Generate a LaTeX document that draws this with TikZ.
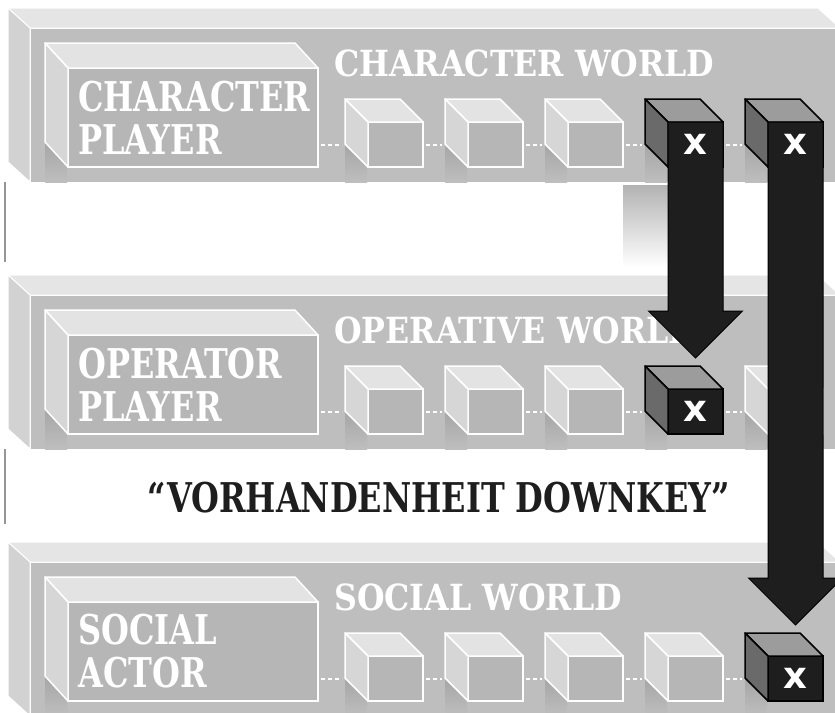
\documentclass[tikz,border=0pt]{standalone}
\usepackage{fontspec}
\usepackage{xcolor}
\usetikzlibrary{positioning,calc}
\newfontfamily\labelfont[FakeStretch=0.78]{DejaVu Serif}
\newfontfamily\titlefont[FakeStretch=0.88]{DejaVu Serif}
\newfontfamily\markfont{DejaVu Sans}
\definecolor{slabfront}{RGB}{190,190,190}
\definecolor{slabtop}{RGB}{229,229,229}
\definecolor{slabside}{RGB}{210,210,210}
\definecolor{boxfront}{RGB}{182,182,182}
\definecolor{boxtop}{RGB}{227,227,227}
\definecolor{boxside}{RGB}{214,214,214}
\definecolor{darkfront}{RGB}{30,30,30}
\definecolor{darksidegray}{RGB}{106,106,106}
\definecolor{darktopgray}{RGB}{156,156,156}
\definecolor{edgegray}{RGB}{150,150,150}

\begin{document}
\begin{tikzpicture}[x=1pt, y=-1pt,
  slab/.style={draw=white, line width=1pt, fill=slabfront, minimum width=820pt, minimum height=154pt, inner sep=0pt, outer sep=0pt},
  slabtopface/.style={draw=white, line width=1pt, fill=slabtop},
  slabsideface/.style={draw=white, line width=1pt, fill=slabside},
  player/.style={draw=white, line width=1.5pt, fill=boxfront, minimum width=250pt, minimum height=99pt, inner sep=0pt, outer sep=0pt},
  cube/.style={draw=white, line width=1.5pt, fill=boxfront, minimum width=55pt, minimum height=45pt, inner sep=0pt, outer sep=0pt},
  darkcube/.style={cube, draw=black, fill=darkfront},
  topface/.style={draw=white, line width=1.5pt, fill=boxtop, line join=round},
  sideface/.style={draw=white, line width=1.5pt, fill=boxside, line join=round},
  darktopface/.style={draw=black, line width=1.5pt, fill=darktopgray, line join=round},
  darksideface/.style={draw=black, line width=1.5pt, fill=darksidegray, line join=round},
  sideshadow/.style={top color=black!35, bottom color=slabfront},
  dotline/.style={draw=white, line width=2pt, dash pattern=on 4pt off 3pt, shorten <=3pt, shorten >=3pt},
  playerlbl/.style={text=white, font=\labelfont\bfseries\fontsize{41}{43}\selectfont, align=left, anchor=west, inner sep=0pt},
  worldlbl/.style={text=white, font=\titlefont\bfseries\fontsize{36}{36}\selectfont, inner sep=0pt},
  quotelbl/.style={text=darkfront, font=\labelfont\bfseries\fontsize{41}{43}\selectfont, inner sep=0pt},
  xmark/.style={text=white, font=\markfont\bfseries\fontsize{37}{37}\selectfont, inner sep=0pt},
  bigarrow/.style={fill=darkfront, draw=black, line width=1pt},
  edgeline/.style={draw=edgegray, line width=2pt}
]
\useasboundingbox (0,0) rectangle (835,712);

% character world
\node[slab] (chw) at (440,105) {};
\path[slabtopface] (chw.north west) -- ++(-22,-20) -- ++(810,0) -- ++(22,20) -- cycle;
\path[slabsideface] (chw.north west) -- ++(-22,-20) -- ++(0,154) -- (chw.south west) -- cycle;
\node[player] (chp) at (193,117.5) {};
\node[cube] (ch1) at (395.5,144.5) {};
\node[cube, right=45pt of ch1] (ch2) {};
\node[cube, right=45pt of ch2] (ch3) {};
\node[darkcube, right=45pt of ch3] (ch4) {};
\node[darkcube, right=45pt of ch4] (ch5) {};
\foreach \c/\d in {chp/25,ch1/23,ch2/23,ch3/23,ch4/23,ch5/23}
  \shade[sideshadow] ($(\c.south west)+(-23,-\d)$) rectangle ([xshift=-1pt]\c.south west |- chw.south);
\foreach \c/\d in {chp/25,ch1/23,ch2/23,ch3/23} {
  \path[topface] (\c.north west) -- ++(-23,-\d) -- ($(\c.north east)+(-23,-\d)$) -- (\c.north east) -- cycle;
  \path[sideface] (\c.north west) -- ++(-23,-\d) -- ($(\c.south west)+(-23,-\d)$) -- (\c.south west) -- cycle;
}
\foreach \c in {ch4,ch5} {
  \path[darktopface] (\c.north west) -- ++(-23,-23) -- ($(\c.north east)+(-23,-23)$) -- (\c.north east) -- cycle;
  \path[darksideface] (\c.north west) -- ++(-23,-23) -- ($(\c.south west)+(-23,-23)$) -- (\c.south west) -- cycle;
}
\draw[dotline] (chp.east |- ch1.west) -- ([xshift=-23pt]ch1.west);
\draw[dotline] (ch1.east) -- ([xshift=-23pt]ch2.west);
\draw[dotline] (ch2.east) -- ([xshift=-23pt]ch3.west);
\draw[dotline] (ch3.east) -- ([xshift=-23pt]ch4.west);
\draw[dotline] (ch4.east) -- ([xshift=-23pt]ch5.west);
\node[playerlbl] (chpt) at ([xshift=10pt]chp.west) {CHARACTER\\PLAYER};
\node[worldlbl, anchor=base west] (chwt) at ([xshift=16pt,yshift=-8pt]chp.north east) {CHARACTER WORLD};

% operative world
\node[slab] (opw) at (440,372) {};
\path[slabtopface] (opw.north west) -- ++(-22,-20) -- ++(810,0) -- ++(22,20) -- cycle;
\path[slabsideface] (opw.north west) -- ++(-22,-20) -- ++(0,154) -- (opw.south west) -- cycle;
\node[player] (opp) at (193,384.5) {};
\node[cube] (op1) at (395.5,411.5) {};
\node[cube, right=45pt of op1] (op2) {};
\node[cube, right=45pt of op2] (op3) {};
\node[darkcube, right=45pt of op3] (op4) {};
\node[cube, right=45pt of op4] (op5) {};
\foreach \c/\d in {opp/25,op1/23,op2/23,op3/23,op4/23,op5/23}
  \shade[sideshadow] ($(\c.south west)+(-23,-\d)$) rectangle ([xshift=-1pt]\c.south west |- opw.south);
\foreach \c/\d in {opp/25,op1/23,op2/23,op3/23,op5/23} {
  \path[topface] (\c.north west) -- ++(-23,-\d) -- ($(\c.north east)+(-23,-\d)$) -- (\c.north east) -- cycle;
  \path[sideface] (\c.north west) -- ++(-23,-\d) -- ($(\c.south west)+(-23,-\d)$) -- (\c.south west) -- cycle;
}
\path[darktopface] (op4.north west) -- ++(-23,-23) -- ($(op4.north east)+(-23,-23)$) -- (op4.north east) -- cycle;
\path[darksideface] (op4.north west) -- ++(-23,-23) -- ($(op4.south west)+(-23,-23)$) -- (op4.south west) -- cycle;
\draw[dotline] (opp.east |- op1.west) -- ([xshift=-23pt]op1.west);
\draw[dotline] (op1.east) -- ([xshift=-23pt]op2.west);
\draw[dotline] (op2.east) -- ([xshift=-23pt]op3.west);
\draw[dotline] (op3.east) -- ([xshift=-23pt]op4.west);
\draw[dotline] (op4.east) -- ([xshift=-23pt]op5.west);
\node[playerlbl] (oppt) at ([xshift=10pt]opp.west) {OPERATOR\\PLAYER};
\node[worldlbl, anchor=base west] (opwt) at ([xshift=16pt,yshift=-8pt]opp.north east) {OPERATIVE WORLD};

% social world
\node[slab] (sow) at (440,639) {};
\path[slabtopface] (sow.north west) -- ++(-22,-20) -- ++(810,0) -- ++(22,20) -- cycle;
\path[slabsideface] (sow.north west) -- ++(-22,-20) -- ++(0,154) -- (sow.south west) -- cycle;
\node[player] (sop) at (193,651.5) {};
\node[cube] (so1) at (395.5,678.5) {};
\node[cube, right=45pt of so1] (so2) {};
\node[cube, right=45pt of so2] (so3) {};
\node[cube, right=45pt of so3] (so4) {};
\node[darkcube, right=45pt of so4] (so5) {};
\foreach \c/\d in {sop/25,so1/23,so2/23,so3/23,so4/23,so5/23}
  \shade[sideshadow] ($(\c.south west)+(-23,-\d)$) rectangle ([xshift=-1pt]\c.south west |- sow.south);
\foreach \c/\d in {sop/25,so1/23,so2/23,so3/23,so4/23} {
  \path[topface] (\c.north west) -- ++(-23,-\d) -- ($(\c.north east)+(-23,-\d)$) -- (\c.north east) -- cycle;
  \path[sideface] (\c.north west) -- ++(-23,-\d) -- ($(\c.south west)+(-23,-\d)$) -- (\c.south west) -- cycle;
}
\path[darktopface] (so5.north west) -- ++(-23,-23) -- ($(so5.north east)+(-23,-23)$) -- (so5.north east) -- cycle;
\path[darksideface] (so5.north west) -- ++(-23,-23) -- ($(so5.south west)+(-23,-23)$) -- (so5.south west) -- cycle;
\draw[dotline] (sop.east |- so1.west) -- ([xshift=-23pt]so1.west);
\draw[dotline] (so1.east) -- ([xshift=-23pt]so2.west);
\draw[dotline] (so2.east) -- ([xshift=-23pt]so3.west);
\draw[dotline] (so3.east) -- ([xshift=-23pt]so4.west);
\draw[dotline] (so4.east) -- ([xshift=-23pt]so5.west);
\node[playerlbl] (sopt) at ([xshift=10pt]sop.west) {SOCIAL\\ACTOR};
\node[worldlbl, anchor=base west] (sowt) at ([xshift=16pt,yshift=-8pt]sop.north east) {SOCIAL WORLD};

\node[quotelbl, anchor=base] (vorh) at (439,512) {“VORHANDENHEIT DOWNKEY”};

% left edges and gap shading
\draw[edgeline] ([xshift=-25pt]chw.south west) -- ++(0,80);
\draw[edgeline] ([xshift=-25pt]opw.south west) -- ++(0,75);
\shade[top color=black!30, bottom color=white] ([xshift=-45pt,yshift=-3pt]ch4.west |- chw.south) rectangle ([yshift=28pt]ch4.west |- opw.north);

% arrows
\coordinate (tipa) at ([yshift=31pt]op4.north);
\coordinate (hla) at ($(tipa)+(-47,-47)$);
\coordinate (hra) at ($(tipa)+(47,-47)$);
\path[bigarrow] (ch4.north west) -- (ch4.north west |- hla) -- (hla) -- (tipa) -- (hra) -- (ch4.north east |- hra) -- (ch4.north east) -- cycle;
\coordinate (tipb) at ([yshift=31pt]so5.north);
\coordinate (hlb) at ($(tipb)+(-47,-47)$);
\coordinate (hrb) at ($(tipb)+(47,-47)$);
\path[bigarrow] (ch5.north west) -- (ch5.north west |- hlb) -- (hlb) -- (tipb) -- (hrb) -- (ch5.north east |- hrb) -- (ch5.north east) -- cycle;

\node[xmark] (x1) at (ch4) {x};
\node[xmark] (x2) at (ch5) {x};
\node[xmark] (x3) at (op4) {x};
\node[xmark] (x4) at (so5) {x};

\end{tikzpicture}
\end{document}
